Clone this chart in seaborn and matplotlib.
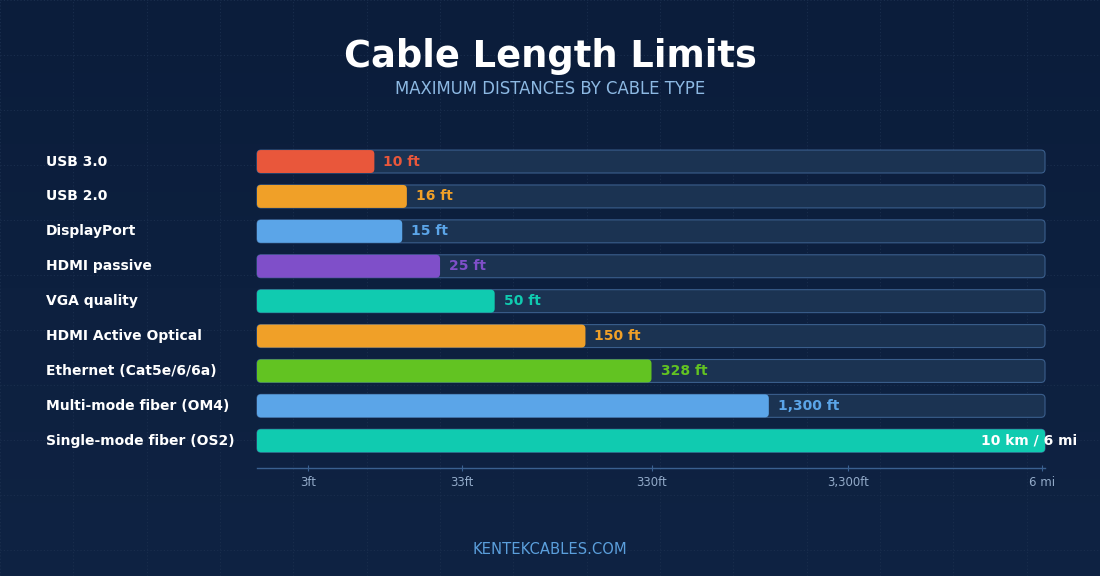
import numpy as np
import pandas as pd
import matplotlib
matplotlib.use("Agg")
import matplotlib.pyplot as plt
import seaborn as sns
from matplotlib.patches import FancyBboxPatch
from matplotlib.transforms import IdentityTransform, blended_transform_factory
from matplotlib.colors import LinearSegmentedColormap

# ---------------- data ----------------
cables = ["USB 3.0", "USB 2.0", "DisplayPort", "HDMI passive", "VGA quality",
          "HDMI Active Optical", "Ethernet (Cat5e/6/6a)", "Multi-mode fiber (OM4)",
          "Single-mode fiber (OS2)"]
max_ft = [10, 16, 15, 25, 50, 150, 328, 1300, 32808]
value_labels = ["10 ft", "16 ft", "15 ft", "25 ft", "50 ft", "150 ft", "328 ft",
                "1,300 ft", "10 km / 6 mi"]
bar_colors = ["#e9573b", "#f0a028", "#5ba5e8", "#7f4fc9", "#10cbb0",
              "#f0a028", "#62c322", "#5ba5e8", "#10cbb0"]
tick_values = [3, 33, 330, 3300, 31680]
tick_labels = ["3ft", "33ft", "330ft", "3,300ft", "6 mi"]
axis_min_ft = 0.3
axis_max_ft = 32808

title = "Cable Length Limits"
subtitle = "MAXIMUM DISTANCES BY CABLE TYPE"
footer = "KENTEKCABLES.COM"

# ---------------- style ----------------
W, H, DPI = 1100, 576, 100
track_face = "#1b3352"
track_edge = "#3a5e8c"
axis_color = "#3a6090"
tick_label_color = "#93abc9"

fig = plt.figure(figsize=(W / DPI, H / DPI), dpi=DPI)

# background with gradient and faint dotted grid
bg = fig.add_axes([0, 0, 1, 1], zorder=-10)
grad = np.linspace(0, 1, 256).reshape(-1, 1)
cmap = LinearSegmentedColormap.from_list("bg", ["#0b1d3b", "#0f2343"])
bg.imshow(grad, aspect="auto", cmap=cmap, extent=(0, W, H, 0))
for gx in np.arange(0, W + 1, W / 15):
    bg.axvline(gx, color="#1a2e4d", lw=0.8, ls=(0, (1, 2)))
for gy in np.arange(0, H + 1, 55):
    bg.axhline(gy, color="#1a2e4d", lw=0.8, ls=(0, (1, 2)))
bg.set_xlim(0, W)
bg.set_ylim(H, 0)
bg.axis("off")

# main axes
ax_left, ax_right = 257, 1045
ax_bottom_px, ax_top_px = 468, 134.3
ax = fig.add_axes([ax_left / W, 1 - ax_bottom_px / H,
                   (ax_right - ax_left) / W, (ax_bottom_px - ax_top_px) / H])
ax.set_facecolor("none")

df = pd.DataFrame({"cable": cables, "max_ft": max_ft,
                   "track": [axis_max_ft] * len(cables)})

bar_width = 0.657
sns.barplot(data=df, x="track", y="cable", orient="h", color=track_face,
            saturation=1, width=bar_width, ax=ax, errorbar=None)
n_track = len(ax.patches)
sns.barplot(data=df, x="max_ft", y="cable", orient="h", hue="cable",
            palette=bar_colors, saturation=1, width=bar_width, ax=ax,
            legend=False, errorbar=None)

fwd = lambda x: np.log10(np.asarray(x, dtype=float) + 3)
inv = lambda y: 10 ** np.asarray(y, dtype=float) - 3
ax.set_xscale("function", functions=(fwd, inv))
ax.set_xlim(axis_min_ft, axis_max_ft)
ax.set_ylim(len(cables) - 1 + 0.78, -0.78)

# replace rectangles by rounded boxes in pixel space
patches = list(ax.patches)
for k, p in enumerate(patches):
    x0, y0 = p.get_x(), p.get_y()
    w, h = p.get_width(), p.get_height()
    x0 = max(x0, axis_min_ft)
    x1 = min(p.get_x() + w, axis_max_ft)
    (px0, py0), (px1, py1) = ax.transData.transform([(x0, y0), (x1, y0 + h)])
    lx, rx = min(px0, px1), max(px0, px1)
    by, ty = min(py0, py1), max(py0, py1)
    is_track = k < n_track
    fb = FancyBboxPatch((lx, by), rx - lx, ty - by,
                        boxstyle="round,pad=0,rounding_size=4",
                        transform=IdentityTransform(),
                        facecolor=track_face if is_track else p.get_facecolor(),
                        edgecolor=track_edge if is_track else "none",
                        lw=0.8 if is_track else 0,
                        zorder=1 if is_track else 2, clip_on=False)
    ax.add_artist(fb)
    p.set_visible(False)

# value labels
for i, (v, lab, c) in enumerate(zip(max_ft, value_labels, bar_colors)):
    last = (i == len(max_ft) - 1)
    ax.annotate(lab, xy=(v, i), xytext=(-64 if last else 9, 0),
                textcoords="offset pixels", va="center", ha="left",
                color="white" if last else c, fontweight="bold",
                fontsize=10, zorder=5, annotation_clip=False)

# category labels
tr = blended_transform_factory(fig.transFigure, ax.transData)
for i, name in enumerate(cables):
    ax.text(46 / W, i, name, transform=tr, ha="left", va="center",
            color="white", fontweight="bold", fontsize=10)

# axes styling
ax.set_yticks([])
ax.set_xlabel("")
ax.set_ylabel("")
for s in ["top", "right", "left"]:
    ax.spines[s].set_visible(False)
ax.spines["bottom"].set_color(axis_color)
ax.spines["bottom"].set_linewidth(1)
ax.set_xticks(tick_values)
ax.set_xticklabels(tick_labels)
ax.xaxis.set_minor_locator(matplotlib.ticker.NullLocator())
ax.tick_params(axis="x", colors=axis_color, labelcolor=tick_label_color,
               direction="inout", length=5, width=0.8, labelsize=8.5, pad=3)
ax.grid(False)

# titles
fig.text(0.5, 1 - 67 / H, title, ha="center", va="baseline", color="white",
         fontsize=26.5, fontweight="bold")
fig.text(0.5, 1 - 94 / H, subtitle, ha="center", va="baseline",
         color="#8db9e3", fontsize=11.9)
fig.text(0.5, 1 - 550 / H, footer, ha="center", va="center",
         color="#5b9fdc", fontsize=10.6)

fig.savefig("out.png", dpi=DPI)
